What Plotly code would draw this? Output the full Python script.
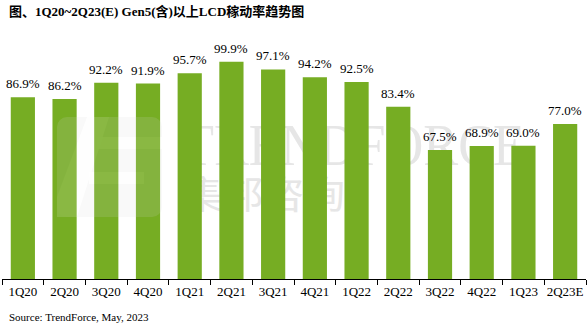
import base64
import plotly.graph_objects as go

categories = ["1Q20", "2Q20", "3Q20", "4Q20", "1Q21", "2Q21", "3Q21", "4Q21",
              "1Q22", "2Q22", "3Q22", "4Q22", "1Q23", "2Q23E"]
utilization = [86.9, 86.2, 92.2, 91.9, 95.7, 99.9, 97.1, 94.2, 92.5, 83.4,
               67.5, 68.9, 69.0, 77.0]
labels = [f"{v:.1f}%" for v in utilization]

title_text = "图、1Q20~2Q23(E) Gen5(含)以上LCD稼动率趋势图"
source_text = "Source: TrendForce, May, 2023"

W, H = 587, 325
ML, MR, MT, MB = 2, 1, 48, 46
PW, PH = W - ML - MR, H - MT - MB


def svg_uri(svg):
    return "data:image/svg+xml;base64," + base64.b64encode(svg.encode("utf-8")).decode()


logo_svg = """<svg xmlns='http://www.w3.org/2000/svg' width='105' height='100' viewBox='0 0 105 100'>
<rect x='0' y='0' width='105' height='100' rx='10' ry='10' fill='#d8d8d8'/>
<polygon points='30,0 52,0 20,100 0,100 0,80' fill='#ffffff' fill-opacity='0.9'/>
<rect x='40' y='20' width='65' height='12' fill='#ffffff' fill-opacity='0.9'/>
<rect x='32' y='55' width='55' height='12' fill='#ffffff' fill-opacity='0.9'/>
</svg>"""

text_svg = """<svg xmlns='http://www.w3.org/2000/svg' width='350' height='100' viewBox='0 0 350 100'>
<text x='2' y='50' font-family='Liberation Serif, Times New Roman, serif' font-size='60'
 fill='#e6e6e6' textLength='343' lengthAdjust='spacingAndGlyphs'>TRENDFORCE</text>
<text x='2' y='93' font-family='Noto Sans CJK SC, sans-serif' font-size='38'
 fill='#e6e6e6' textLength='163' lengthAdjust='spacingAndGlyphs'>集邦咨询</text>
</svg>"""


def px_to_paper_x(px):
    return (px - ML) / PW


def px_to_paper_y(py):
    return 1 - (py - MT) / PH


fig = go.Figure()
fig.add_trace(go.Bar(
    x=categories,
    y=utilization,
    cliponaxis=False,
    marker=dict(color="#76AD23", line=dict(width=0)),
    hoverinfo="x+y",
))

value_annotations = [
    dict(x=c, y=v, xref="x", yref="y", text=t, showarrow=False,
         xanchor="center", yanchor="bottom", yshift=4,
         font=dict(family="Liberation Serif, Times New Roman, serif", size=13, color="#000000"))
    for c, v, t in zip(categories, utilization, labels)
]

fig.update_layout(
    width=W, height=H,
    margin=dict(l=ML, r=MR, t=MT, b=MB),
    paper_bgcolor="white",
    plot_bgcolor="white",
    bargap=0.42,
    showlegend=False,
    xaxis=dict(
        type="category",
        showline=True, linecolor="#000000", linewidth=1,
        ticks="outside", tickson="boundaries", ticklen=5, tickcolor="#000000",
        tickangle=0,
        tickfont=dict(family="Liberation Serif, Times New Roman, serif", size=13, color="#000000"),
        showgrid=False,
    ),
    yaxis=dict(
        range=[20, 105], visible=False, showgrid=False, zeroline=False,
    ),
    images=[
        dict(source=svg_uri(text_svg), xref="paper", yref="paper",
             x=px_to_paper_x(180), y=px_to_paper_y(115), sizex=350 / PW, sizey=100 / PH,
             xanchor="left", yanchor="top", sizing="stretch", layer="below"),
        dict(source=svg_uri(logo_svg), xref="paper", yref="paper",
             x=px_to_paper_x(57), y=px_to_paper_y(117), sizex=105 / PW, sizey=100 / PH,
             xanchor="left", yanchor="top", sizing="stretch", layer="above", opacity=0.15),
    ],
    annotations=value_annotations + [
        dict(text="<b>" + title_text + "</b>", xref="paper", yref="paper",
             x=px_to_paper_x(7), y=px_to_paper_y(12),
             xanchor="left", yanchor="middle", showarrow=False,
             font=dict(family="Liberation Serif, Noto Sans CJK SC, serif", size=13, color="#000000")),
        dict(text=source_text, xref="paper", yref="paper",
             x=px_to_paper_x(7), y=px_to_paper_y(317),
             xanchor="left", yanchor="middle", showarrow=False,
             font=dict(family="Liberation Serif, Times New Roman, serif", size=11, color="#000000")),
    ],
)

fig.write_html("out.html")
